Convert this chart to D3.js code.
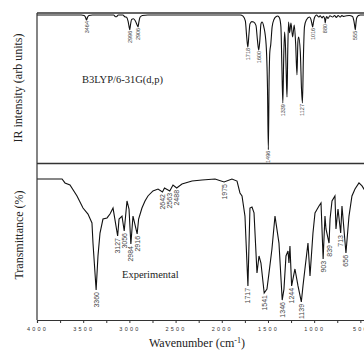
<!DOCTYPE html>
<html><head><meta charset="utf-8">
<script src="https://cdn.jsdelivr.net/npm/d3@7"></script>
<style>body{margin:0;background:#fff}svg{display:block}</style>
</head><body>
<script>
// Calculated spectrum (B3LYP/6-31G(d,p)) : wavenumber, IR intensity (arb., 0 = baseline)
const calcWn = [4000,3520,3490,3475,3464,3453,3438,3400,3170,3150,3140,3120,3070,3050,3030,3015,3003,2996,2989,2975,2955,2935,2915,2906,2898,2885,2860,2800,1800,1770,1745,1730,1718,1706,1695,1675,1655,1630,1614,1600,1588,1576,1565,1545,1520,1505,1496,1488,1480,1470,1455,1435,1410,1395,1375,1360,1350,1339,1330,1320,1310,1302,1294,1286,1277,1266,1251,1233,1216,1200,1186,1176,1168,1150,1137,1127,1117,1105,1085,1050,1035,1024,1016,1008,995,975,950,935,915,900,885,880,875,865,850,830,800,780,760,740,720,700,680,650,620,585,570,560,555,550,540,520,500,400];
const calcI  = [0,0,0.4,1.5,3.4,1.5,0.4,0,0,1.2,1.2,0,0,1.2,1.5,4,8,10,7,3,2.5,4,7,8,5,1.5,0.3,0,0,0.8,4,15,21.6,13,6,4.5,4.7,7,17,23.6,17,6,4.7,8,20,50,91,45,25,20,8,3,1,0.7,2,8,33,59.5,30,11.5,22,40,55.4,25,4.7,12,5.4,14.9,6.8,20,40.5,18,14.9,25,50,59.5,30,8,3.4,1.4,3,6,8,5,1.5,0,1.4,0.5,2,0.8,3,5.4,3,1,2.4,0.5,1.4,0.3,1.6,0.3,1.4,0.4,1.0,0.5,0.3,1,4,8,10,7,2,0.3,0,0];
const calcLabels = [3464,2996,2906,1718,1600,1496,1339,1127,1016,880,555];

// Experimental spectrum : wavenumber, transmittance (%)
const expWn = [4000,3729,3697,3643,3567,3502,3448,3405,3394,3360,3340,3318,3286,3242,3210,3177,3127,3112,3080,3056,3026,3004,2984,2961,2916,2900,2864,2831,2799,2745,2690,2642,2620,2563,2528,2488,2431,2322,2214,2073,1975,1890,1835,1803,1781,1749,1717,1695,1673,1651,1619,1597,1576,1541,1511,1489,1457,1424,1381,1346,1327,1305,1283,1273,1262,1244,1208,1175,1139,1121,1100,1067,1045,1013,991,948,926,903,883,872,839,828,807,775,764,742,713,699,656,623,591,558,515,482,461,430];
const expT  = [89.8,89.8,87.3,86.0,79.0,71.3,67.5,61.8,49.0,19.1,40.8,55.4,64.3,65.0,67.5,71.3,53.5,64.3,66.2,56.7,75.8,70.7,48.4,66.2,54.8,64.3,71.3,75.8,79.0,82.2,83.4,81.5,84.1,82.2,86.0,84.1,86.6,88.5,89.2,89.8,87.9,89.8,88.5,80.9,79.0,66.2,21.7,71.3,72.0,68.2,29.9,40.8,36.3,17.2,19.7,29.9,45.2,66.2,49.0,12.7,19.7,40.8,43.9,36.3,47.1,21.7,32.5,21.7,11.5,21.7,32.5,49.0,28.0,55.4,68.2,72.6,74.5,38.9,66.2,58.0,49.0,64.3,75.8,79.0,58.0,70.7,55.4,72.6,42.7,66.2,79.0,83.4,87.3,85.4,83.4,81.5];
const expLabels = [3360,3127,3056,2984,2916,2642,2563,2488,1975,1717,1541,1346,1244,1139,903,839,713,656];

const xTicks = [4000,3500,3000,2500,2000,1500,1000,500];

const W = 364, H = 352;
const svg = d3.select("body").append("svg").attr("width", W).attr("height", H);

const x = d3.scaleLinear().domain([4000, 400]).range([37, 369.6]);
const yTop = d3.scaleLinear().domain([0, 100]).range([15, 163]);
const yBot = d3.scaleLinear().domain([0, 100]).range([320, 163]);

const calc = calcWn.map((w, i) => ({w, v: calcI[i]}));
const exp = expWn.map((w, i) => ({w, v: expT[i]}));

// spectra
svg.append("path").datum(calc)
  .attr("d", d3.line().x(d => x(d.w)).y(d => yTop(d.v)).curve(d3.curveMonotoneX))
  .attr("fill", "none").attr("stroke", "#111").attr("stroke-width", 1.1);
svg.append("path").datum(exp)
  .attr("d", d3.line().x(d => x(d.w)).y(d => yBot(d.v)).curve(d3.curveLinear))
  .attr("fill", "none").attr("stroke", "#111").attr("stroke-width", 1.1);

// frames
const fr = svg.append("g").attr("fill", "none").attr("stroke", "#333");
fr.append("line").attr("x1", 37).attr("x2", W + 10).attr("y1", 13).attr("y2", 13).attr("stroke-width", 1.6);
fr.append("line").attr("x1", 37).attr("x2", W + 10).attr("y1", 163.5).attr("y2", 163.5).attr("stroke-width", 1.6);
fr.append("line").attr("x1", 37).attr("x2", 37).attr("y1", 13).attr("y2", 320).attr("stroke-width", 1.2);

// bottom axis
const ax = svg.append("g").attr("transform", "translate(0,320)")
  .call(d3.axisBottom(x).tickValues(d3.range(4000, 399, -250)).tickSize(3).tickFormat(d => xTicks.includes(d) ? d : ""));
ax.select(".domain").attr("stroke", "#333").attr("stroke-width", 1.2);
ax.selectAll(".tick line").attr("stroke", "#333");
ax.selectAll("text").attr("font-family", "Liberation Sans, Arial, sans-serif").attr("font-size", 5.5)
  .attr("letter-spacing", 2.2).attr("fill", "#333").attr("dy", "0.95em");

// peak labels
const labFont = "Liberation Sans, Arial, sans-serif";
calcLabels.forEach(w => {
  const d = calc.find(p => p.w === w);
  svg.append("text").attr("transform", `translate(${x(w) + 2},${yTop(d.v) + 1}) rotate(-90)`)
    .attr("text-anchor", "end").attr("font-family", labFont).attr("font-size", 5.5).attr("fill", "#444").text(w);
});
expLabels.forEach(w => {
  const d = exp.find(p => p.w === w);
  svg.append("text").attr("transform", `translate(${x(w) + 2.5},${yBot(d.v) + 2}) rotate(-90)`)
    .attr("text-anchor", "end").attr("font-family", labFont).attr("font-size", 7).attr("fill", "#444").text(w);
});

// texts
const serif = "Liberation Serif, Times New Roman, serif";
svg.append("text").attr("x", 82).attr("y", 83).attr("font-family", serif).attr("font-size", 10.5).attr("fill", "#222").text("B3LYP/6-31G(d,p)");
svg.append("text").attr("x", 122).attr("y", 278).attr("font-family", serif).attr("font-size", 10.5).attr("fill", "#222").text("Experimental");
svg.append("text").attr("transform", "translate(22,88) rotate(-90)").attr("text-anchor", "middle")
  .attr("font-family", serif).attr("font-size", 12).attr("fill", "#222").text("IR intensity (arb units)");
svg.append("text").attr("transform", "translate(23,235) rotate(-90)").attr("text-anchor", "middle")
  .attr("font-family", serif).attr("font-size", 12).attr("fill", "#222").text("Transmittance (%)");
const xl = svg.append("text").attr("x", 197).attr("y", 347).attr("text-anchor", "middle")
  .attr("font-family", serif).attr("font-size", 12).attr("fill", "#222");
xl.append("tspan").text("Wavenumber (cm");
xl.append("tspan").attr("dy", -4).attr("font-size", 8).text("-1");
xl.append("tspan").attr("dy", 4).text(")");
</script>
</body></html>
